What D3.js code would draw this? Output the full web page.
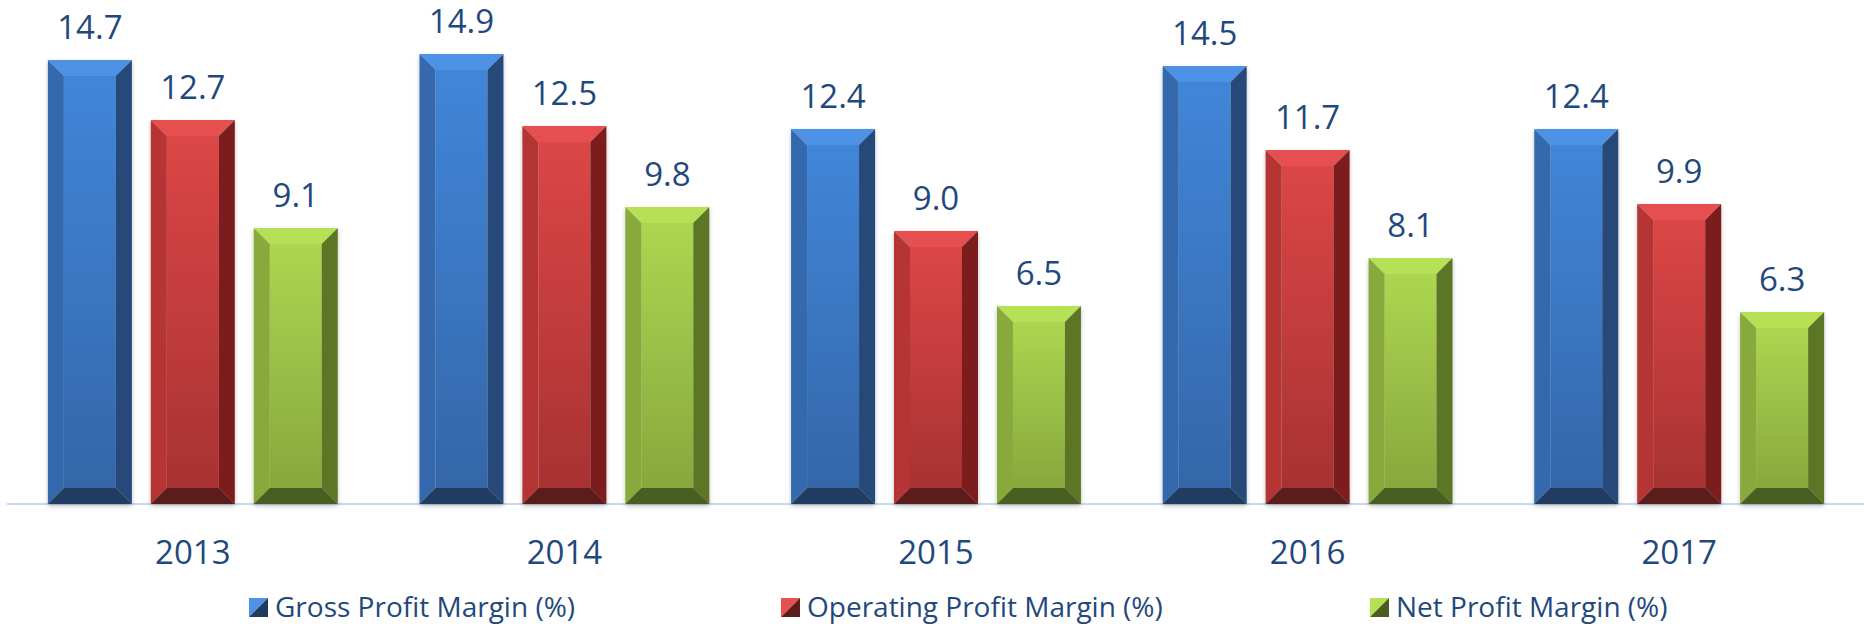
<!DOCTYPE html>
<html>
<head>
<meta charset="utf-8">
<script src="https://cdn.jsdelivr.net/npm/d3@7"></script>
<style>
  html, body { margin: 0; padding: 0; background: #fff; }
  svg text { font-family: "Open Sans", "Noto Sans", sans-serif; fill: #1f497d; }
</style>
</head>
<body>
<svg id="chart" width="1864" height="626"></svg>
<script>
// data
var years = ['2013', '2014', '2015', '2016', '2017'];
var grossMargin = [14.7, 14.9, 12.4, 14.5, 12.4];
var operatingMargin = [12.7, 12.5, 9.0, 11.7, 9.9];
var netMargin = [9.1, 9.8, 6.5, 8.1, 6.3];
var seriesNames = ['Gross Profit Margin (%)', 'Operating Profit Margin (%)', 'Net Profit Margin (%)'];

var seriesValues = [grossMargin, operatingMargin, netMargin];

// bevel palettes: face top/bottom, top edge, left edge, right edge, bottom edge
var palettes = [
    {faceTop: '#4086d8', faceBottom: '#3566a9', top: '#4d92e4', left: '#3569ad', right: '#254a7a', bottom: '#213b60'},
    {faceTop: '#dc4646', faceBottom: '#a83232', top: '#e65050', left: '#b53434', right: '#7b1f1f', bottom: '#5c1c1c'},
    {faceTop: '#acd650', faceBottom: '#87a83d', top: '#b6e054', left: '#88a93a', right: '#5b7627', bottom: '#4a5e20'}
];

var svg = d3.select('#chart');
var baseY = 504;
var bevel = 16;

var x0 = d3.scaleBand()
    .domain(years)
    .range([7, 1865])
    .paddingInner(0.22)
    .paddingOuter(0.11);

var x1 = d3.scaleBand()
    .domain(d3.range(seriesNames.length))
    .range([0, x0.bandwidth()])
    .paddingInner(0.184);

var y = d3.scaleLinear()
    .domain([0, 16])
    .range([501, 21]);

var defs = svg.append('defs');
palettes.forEach(function (p, i) {
    var g = defs.append('linearGradient')
        .attr('id', 'face' + i)
        .attr('x1', 0).attr('y1', 0).attr('x2', 0).attr('y2', 1);
    g.append('stop').attr('offset', '0%').attr('stop-color', p.faceTop);
    g.append('stop').attr('offset', '100%').attr('stop-color', p.faceBottom);
});
var shadow = defs.append('filter').attr('id', 'shadow')
    .attr('x', '-10%').attr('y', '-10%').attr('width', '120%').attr('height', '120%');
shadow.append('feDropShadow')
    .attr('dx', 0).attr('dy', 2).attr('stdDeviation', 2)
    .attr('flood-color', '#000').attr('flood-opacity', 0.25);

// baseline
svg.append('line')
    .attr('x1', 7).attr('x2', 1864)
    .attr('y1', baseY).attr('y2', baseY)
    .attr('stroke', '#c6d9f1')
    .attr('stroke-width', 2);

var bars = [];
years.forEach(function (yr, i) {
    seriesValues.forEach(function (vals, s) {
        bars.push({year: yr, series: s, value: vals[i]});
    });
});

var poly = function (pts) {
    return pts.map(function (p) { return p.join(','); }).join(' ');
};

var bar = svg.append('g').selectAll('g.bar')
    .data(bars)
    .join('g')
    .attr('class', 'bar')
    .attr('filter', 'url(#shadow)');

bar.each(function (d) {
    var g = d3.select(this);
    var p = palettes[d.series];
    var l = x0(d.year) + x1(d.series);
    var r = l + x1.bandwidth();
    var t = y(d.value);
    var b = baseY;

    g.append('rect')
        .attr('x', l + bevel).attr('y', t + bevel)
        .attr('width', r - l - 2 * bevel).attr('height', b - t - 2 * bevel)
        .attr('fill', 'url(#face' + d.series + ')');
    g.append('polygon')
        .attr('points', poly([[l, t], [r, t], [r - bevel, t + bevel], [l + bevel, t + bevel]]))
        .attr('fill', p.top);
    g.append('polygon')
        .attr('points', poly([[l, t], [l + bevel, t + bevel], [l + bevel, b - bevel], [l, b]]))
        .attr('fill', p.left);
    g.append('polygon')
        .attr('points', poly([[r, t], [r, b], [r - bevel, b - bevel], [r - bevel, t + bevel]]))
        .attr('fill', p.right);
    g.append('polygon')
        .attr('points', poly([[l, b], [l + bevel, b - bevel], [r - bevel, b - bevel], [r, b]]))
        .attr('fill', p.bottom);
});

// value labels
svg.append('g').selectAll('text')
    .data(bars)
    .join('text')
    .attr('x', function (d) { return x0(d.year) + x1(d.series) + x1.bandwidth() / 2; })
    .attr('y', function (d) { return y(d.value) - 21; })
    .attr('text-anchor', 'middle')
    .style('font-size', '33px')
    .text(function (d) { return d3.format('.1f')(d.value); });

// category axis labels
svg.append('g').selectAll('text')
    .data(years)
    .join('text')
    .attr('x', function (d) { return x0(d) + x0.bandwidth() / 2; })
    .attr('y', 564)
    .attr('text-anchor', 'middle')
    .style('font-size', '33px')
    .text(function (d) { return d; });

// legend
var legendX = [249, 781, 1370];
var legend = svg.append('g').selectAll('g')
    .data(seriesNames)
    .join('g')
    .attr('transform', function (d, i) { return 'translate(' + legendX[i] + ',598)'; });

legend.append('polygon')
    .attr('points', '0,0 19,0 0,19')
    .attr('fill', function (d, i) { return palettes[i].top; });
legend.append('polygon')
    .attr('points', '19,0 19,19 0,19')
    .attr('fill', function (d, i) { return palettes[i].bottom; });
legend.append('text')
    .attr('x', 26)
    .attr('y', 19)
    .style('font-size', '28px')
    .text(function (d) { return d; });
</script>
</body>
</html>
